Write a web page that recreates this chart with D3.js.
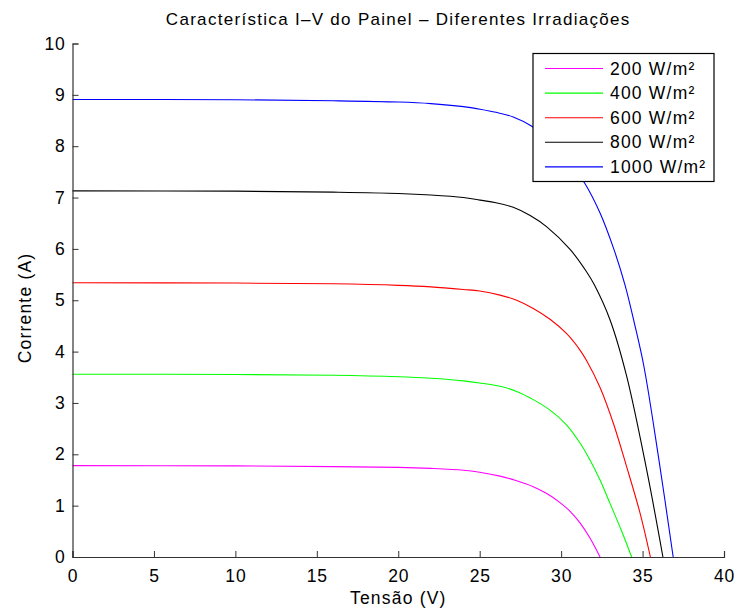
<!DOCTYPE html>
<html>
<head>
<meta charset="utf-8">
<script src="https://cdn.jsdelivr.net/npm/d3@7"></script>
<style>
  body { margin: 0; background: #fff; }
  svg { font-family: "Liberation Sans", Arial, Helvetica, sans-serif; }
</style>
</head>
<body>
<script>
// valores (tensão em V, corrente em A)
const labels = ['200 W/m²', '400 W/m²', '600 W/m²', '800 W/m²', '1000 W/m²'];
const colors = ['#ff00ff', '#00ff00', '#ff0000', '#000000', '#0000ff'];

const v200 = [0, 10, 16, 20, 22, 24, 25, 26.25, 27.27, 28.29, 29.12, 29.93, 30.55, 31.16, 31.77, 32.39];
const i200 = [1.78, 1.775, 1.76, 1.745, 1.725, 1.69, 1.65, 1.575, 1.485, 1.37, 1.235, 1.06, 0.89, 0.665, 0.37, 0];

const v400 = [0, 10, 16, 20, 22, 24, 25, 26.25, 27.27, 28.29, 29.32, 30.34, 31.16, 31.77, 32.39, 33.0, 33.72, 34.33];
const i400 = [3.56, 3.555, 3.54, 3.51, 3.48, 3.43, 3.39, 3.325, 3.225, 3.065, 2.86, 2.57, 2.22, 1.89, 1.50, 1.045, 0.5, 0];

const v600 = [0, 10, 16, 20, 22, 24, 25, 26.25, 27.27, 28.29, 29.32, 30.34, 31.16, 31.57, 32.39, 33.21, 34.03, 34.85, 35.48];
const i600 = [5.34, 5.335, 5.32, 5.29, 5.26, 5.21, 5.18, 5.1, 5.0, 4.84, 4.63, 4.35, 4.03, 3.82, 3.3, 2.6, 1.75, 0.85, 0];

const v800 = [0, 10, 16, 20, 22, 24, 25.02, 26, 27.06, 28.1, 29.12, 30.55, 31.57, 32.04, 33.0, 34.0, 35.25, 36.25];
const i800 = [7.13, 7.125, 7.105, 7.08, 7.05, 7.0, 6.95, 6.9, 6.81, 6.65, 6.43, 5.99, 5.55, 5.3, 4.62, 3.55, 1.7, 0];

const v1000 = [0, 10, 16, 20, 22, 24, 25.02, 26, 27.06, 28.2, 29.3, 30.4, 31.47, 32.39, 33.21, 33.92, 34.5, 35.09, 36.0, 36.88];
const i1000 = [8.91, 8.905, 8.885, 8.86, 8.83, 8.77, 8.72, 8.66, 8.57, 8.39, 8.12, 7.75, 7.27, 6.7, 6.02, 5.3, 4.55, 3.7, 1.9, 0];

const xTicks = [0, 5, 10, 15, 20, 25, 30, 35, 40];
const yTicks = [0, 1, 2, 3, 4, 5, 6, 7, 8, 9, 10];

const voltages = [v200, v400, v600, v800, v1000];
const currents = [i200, i400, i600, i800, i1000];
const series = labels.map((name, k) => ({
  name: name,
  color: colors[k],
  points: voltages[k].map((v, j) => [v, currents[k][j]])
}));

const width = 737, height = 609;
const margin = { top: 43.5, right: 13, bottom: 52, left: 72.5 };

const svg = d3.select('body').append('svg')
  .attr('width', width)
  .attr('height', height);

const x = d3.scaleLinear().domain([0, 40]).range([margin.left, width - margin.right]);
const y = d3.scaleLinear().domain([0, 10]).range([height - margin.bottom, margin.top]);

// curvas
const line = d3.line()
  .x(d => x(d[0]))
  .y(d => y(d[1]))
  .curve(d3.curveCatmullRom.alpha(0.5));

svg.append('g')
  .selectAll('path')
  .data(series)
  .join('path')
  .attr('d', d => line(d.points))
  .attr('fill', 'none')
  .attr('stroke', d => d.color)
  .attr('stroke-width', 1.1);

// eixos (ticks para dentro, estilo matlab)
const xAxis = svg.append('g')
  .attr('transform', `translate(0,${y(0)})`)
  .call(d3.axisBottom(x).tickValues(xTicks).tickSize(-6).tickPadding(13));

const yAxis = svg.append('g')
  .attr('transform', `translate(${x(0)},0)`)
  .call(d3.axisLeft(y).tickValues(yTicks).tickSize(-6).tickPadding(7));

[xAxis, yAxis].forEach(function(ax) {
  ax.select('.domain').attr('stroke', '#333').attr('stroke-width', 1.2);
  ax.selectAll('.tick line').attr('stroke', '#333');
  ax.selectAll('.tick text')
    .attr('fill', '#000')
    .style('font-size', '17.5px')
    .style('letter-spacing', '0.8px')
    .style('font-family', '"Liberation Sans", Arial, sans-serif');
});

// título e rótulos
svg.append('text')
  .attr('x', (x(0) + x(40)) / 2)
  .attr('y', 25)
  .attr('text-anchor', 'middle')
  .style('font-size', '17px')
  .style('letter-spacing', '1.3px')
  .text('Característica I–V do Painel – Diferentes Irradiações');

svg.append('text')
  .attr('x', (x(0) + x(40)) / 2)
  .attr('y', 604)
  .attr('text-anchor', 'middle')
  .style('font-size', '17.5px')
  .style('letter-spacing', '1.2px')
  .text('Tensão (V)');

svg.append('text')
  .attr('transform', `translate(31,308) rotate(-90)`)
  .attr('text-anchor', 'middle')
  .style('font-size', '17.5px')
  .style('letter-spacing', '1.2px')
  .text('Corrente (A)');

// legenda
const legendX = 533, legendY = 53.5, legendW = 181, legendH = 128, rowH = 24.6;

const legend = svg.append('g').attr('class', 'legend');

legend.append('rect')
  .attr('x', legendX)
  .attr('y', legendY)
  .attr('width', legendW)
  .attr('height', legendH)
  .attr('fill', '#fff')
  .attr('stroke', '#000')
  .attr('stroke-width', 1.2);

const rows = legend.selectAll('g.row')
  .data(series)
  .join('g')
  .attr('class', 'row')
  .attr('transform', (d, i) => `translate(0,${legendY + 15 + i * rowH})`);

rows.append('line')
  .attr('x1', legendX + 12)
  .attr('x2', legendX + 70)
  .attr('stroke', d => d.color)
  .attr('stroke-width', 1.1);

rows.append('text')
  .attr('x', legendX + 77)
  .attr('dy', '0.35em')
  .style('font-size', '17.5px')
  .style('letter-spacing', '1.2px')
  .text(d => d.name);
</script>
</body>
</html>
